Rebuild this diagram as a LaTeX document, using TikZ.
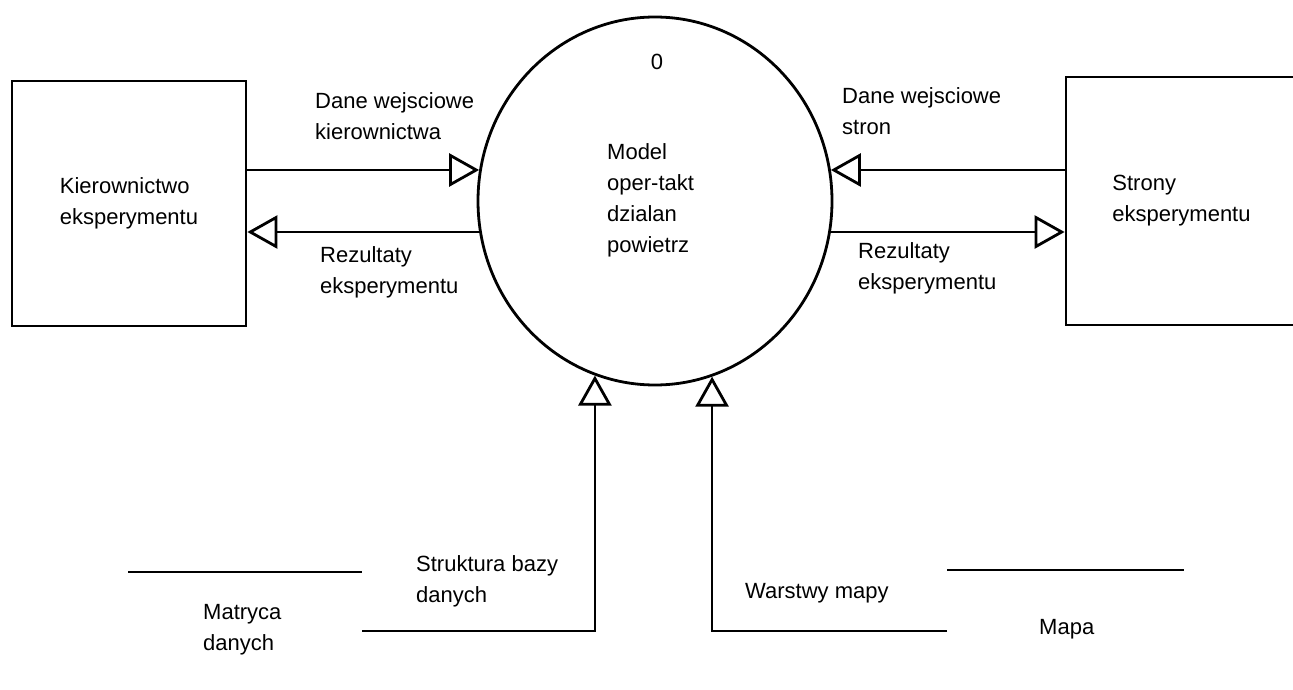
\documentclass[tikz,border=0pt]{standalone}
\usepackage{fontspec}
\setmainfont{Liberation Sans}
\usetikzlibrary{arrows.meta,shapes.geometric}
\begin{document}
\begin{tikzpicture}[x=1pt,y=-1pt,
  every node/.style={font=\fontsize{22pt}{31pt}\selectfont, inner sep=0pt},
  ln/.style={line width=2.8pt},
  arr/.style={ln, -{Triangle[open,length=30pt,width=33pt]}},
  ext/.style={ln, draw, rectangle, align=left},
  lbl/.style={anchor=west, align=left}]
\useasboundingbox[fill=white] (0,0) rectangle (1293,690);
% external entities
\node[ext, minimum width=234pt, minimum height=245pt] (kb) at (129,203.5) {Kierownictwo\\eksperymentu};
\node[ext, minimum width=231pt, minimum height=248pt] (sb) at (1181.5,201) {Strony\\eksperymentu};
% process
\node[ln, draw, ellipse, minimum width=354pt, minimum height=368pt] (proc) at (655,201) {};
\node (num) at (657,62) {0};
\node[lbl] (ptext) at (607,200) {Model\\oper-takt\\dzialan\\powietrz};
% flows left/right
\draw[arr] (kb.east |- proc.170.2) -- (proc.170.2);
\draw[arr] (proc.190.6) -- (kb.east |- proc.190.6);
\draw[arr] (sb.west |- proc.10.1) -- (proc.10.1);
\draw[arr] (proc.350.5) -- (sb.west |- proc.350.5);
\node[lbl] (l1) at (315,116) {Dane wejsciowe\\kierownictwa};
\node[lbl] (l2) at (320,272) {Rezultaty\\eksperymentu};
\node[lbl] (l3) at (842,111.5) {Dane wejsciowe\\stron};
\node[lbl] (l4) at (858,268) {Rezultaty\\eksperymentu};
% data store Matryca danych
\coordinate (mtop1) at (128,572);
\coordinate (mtop2) at (362,572);
\draw[ln] (mtop1) -- (mtop2);
\node[lbl] (mt) at (203,630) {Matryca\\danych};
\coordinate (mflow) at (362,631);
\draw[arr] (mflow) -| (proc.251.6);
\node[lbl] (sl) at (416,581.5) {Struktura bazy\\danych};
% data store Mapa
\coordinate (ptop1) at (947,570);
\coordinate (ptop2) at (1184,570);
\draw[ln] (ptop1) -- (ptop2);
\node[lbl] (mp) at (1039,629) {Mapa};
\coordinate (pflow) at (947,631);
\draw[arr] (pflow) -| (proc.288.7);
\node[lbl] (wl) at (745,593) {Warstwy mapy};
\end{tikzpicture}
\end{document}
